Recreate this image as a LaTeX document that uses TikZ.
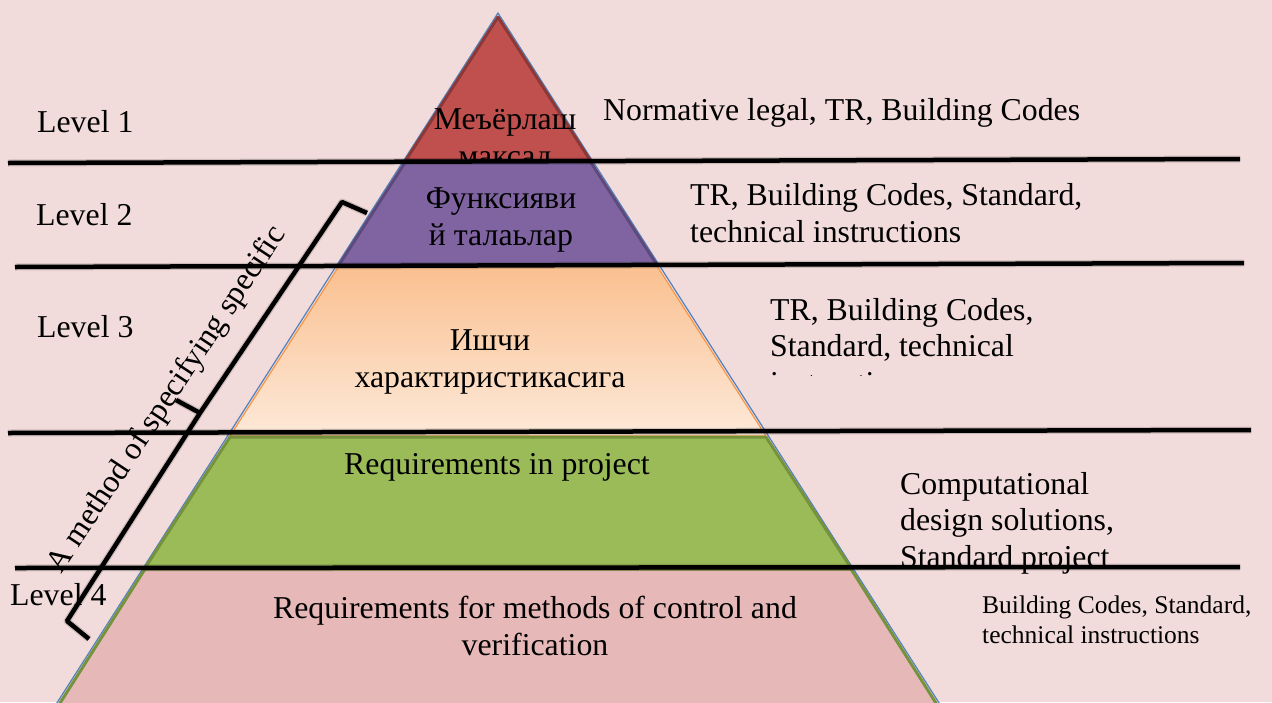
\documentclass[tikz,border=0pt]{standalone}
\usepackage{fontspec}
\setmainfont{Liberation Serif}
\usetikzlibrary{calc}

\definecolor{paper}{HTML}{F2DCDB}
\definecolor{outline}{HTML}{4F81BD}
\definecolor{redfill}{HTML}{C0504D}
\definecolor{redline}{HTML}{8C3836}
\definecolor{purfill}{HTML}{8064A2}
\definecolor{purline}{HTML}{5F497A}
\definecolor{ortop}{HTML}{FAC090}
\definecolor{orbot}{HTML}{FDE9D9}
\definecolor{orline}{HTML}{F79646}
\definecolor{grfill}{HTML}{9BBB59}
\definecolor{grline}{HTML}{76923C}
\definecolor{pkfill}{HTML}{E6B9B8}

\begin{document}
\begin{tikzpicture}[x=1pt, y=-1pt,
    font=\fontsize{31.8}{36.5}\selectfont,
    lbl/.style={inner sep=0pt, align=center, anchor=base},
    note/.style={inner sep=0pt, align=left, anchor=base west},
    small/.style={note, font=\fontsize{25.5}{30}\selectfont},
    layer/.style={line width=3pt, line join=round},
    rule/.style={line width=4.5pt},
    shade/.style={line width=7pt, black, opacity=0.15, yshift=-2.5pt},
  ]
    \fill[paper] (0,0) rectangle (1272,702);
    \useasboundingbox (0,0) rectangle (1272,702);

    % pyramid outline and its five layers (base = last line)
    \draw[outline, line width=1.2pt] (46,720) -- (498,13) -- (950,720);
    \filldraw[layer, fill=redfill, draw=redline] (498,17) -- (590,160) -- (406,160) -- cycle;
    \node[lbl] (goal) at (505,166) {Меъёрлаш\\максад};
    \filldraw[layer, fill=purfill, draw=purline] (406,161) -- (590,161) -- (657,265) -- (339,265) -- cycle;
    \node[lbl] (func) at (501,245) {Функсияви\\й талаьлар};
    \draw[orline, line width=1.2pt, top color=ortop, bottom color=orbot] (339,266) -- (657,266) -- (766,436) -- (230,436) -- cycle;
    \node[lbl] (perf) at (490,387) {Ишчи\\характиристикасига};
    \filldraw[layer, fill=grfill, draw=grline] (230,437) -- (766,437) -- (851,568) -- (145,568) -- cycle;
    \node[lbl] (proj) at (497,474) {Requirements in project};
    \filldraw[layer, fill=pkfill, draw=grline] (145,569) -- (851,569) -- (948,722) -- (48,722) -- cycle;
    \node[lbl] (ctrl) at (535,655) {Requirements for methods of control and\\verification};

    % level names
    \node[note] (lv1) at (37,132) {Level 1};
    \node[note] (lv2) at (36,225) {Level 2};
    \node[note] (lv3) at (37,337) {Level 3};
    \node[note] (lv4) at (10,605) {Level 4};

    % documents for each level
    \node[note] (doc1) at (603,120) {Normative legal, TR, Building Codes};
    \node[note] (doc2) at (690,242) {TR, Building Codes, Standard,\\technical instructions};
    \begin{scope}
      \clip (760,280) rectangle (1100,375);
      \node[note] (doc3) at (770,393) {TR, Building Codes,\\Standard, technical\\instructions};
    \end{scope}
    \node[note] (doc4) at (900,567) {Computational\\design solutions,\\Standard project};
    \node[small] (doc5) at (982,643) {Building Codes, Standard,\\technical instructions};

    % level borders
    \coordinate (l1w) at (8,163);   \coordinate (l1e) at (1240,159);
    \coordinate (l2w) at (15,267);  \coordinate (l2e) at (1244,263);
    \coordinate (l3w) at (8,433);   \coordinate (l3e) at (1251,430);
    \coordinate (l4w) at (15,568);  \coordinate (l4e) at (1240,567);
    \foreach \i in {1,...,4} {
      \draw[shade] (l\i w) -- (l\i e);
      \draw[rule] (l\i w) -- (l\i e);
    }

    % brace with its label
    \coordinate (bt) at (367,213);
    \coordinate (bu) at (342,202);
    \coordinate (bm) at (200,413);
    \coordinate (bp) at (176,400);
    \coordinate (bl) at (67,621);
    \coordinate (bb) at (89,639);
    \draw[shade, line join=round] (bt) -- (bu) -- (bm) -- (bp) (bm) -- (bl) -- (bb);
    \draw[rule, line join=round] (bt) -- (bu) -- (bm) -- (bp) (bm) -- (bl) -- (bb);
    \node[inner sep=0pt, anchor=base, rotate=56.5] (method) at (174,404) {A method of specifying specific};
\end{tikzpicture}
\end{document}
